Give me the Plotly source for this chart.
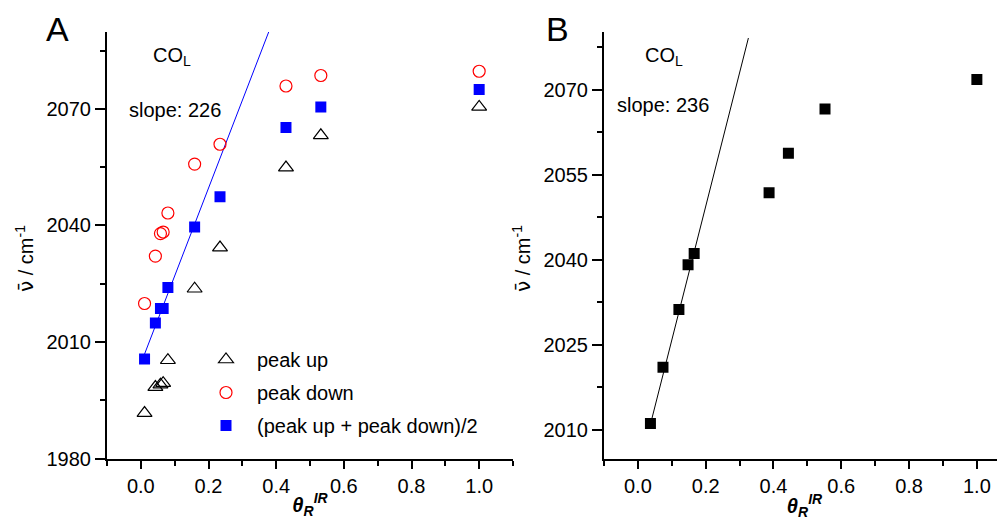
import plotly.graph_objects as go

# ---------------- data ----------------
theta_A = [0.011, 0.043, 0.058, 0.066, 0.080, 0.159, 0.234, 0.429, 0.532, 1.0]
peak_up = [1991.7, 1998.4, 1999.0, 1999.4, 2005.3, 2023.7, 2034.3, 2054.9, 2063.2, 2070.5]
peak_down = [2019.9, 2032.1, 2037.9, 2038.3, 2043.2, 2055.8, 2060.9, 2075.9, 2078.6, 2079.7]
peak_avg = [2005.6, 2014.9, 2018.6, 2018.6, 2024.0, 2039.6, 2047.4, 2065.2, 2070.5, 2075.0]
fitA_slope, fitA_intercept = 226, 2004.4
fitA_x = [0.011, 0.388]

theta_B = [0.037, 0.074, 0.121, 0.148, 0.166, 0.387, 0.444, 0.552, 1.0]
nu_B = [2011.1, 2021.0, 2031.2, 2039.1, 2041.1, 2051.8, 2058.8, 2066.6, 2071.8]
fitB_slope, fitB_intercept = 236, 2002.2
fitB_x = [0.035, 0.326]

x_ticks = [0.0, 0.2, 0.4, 0.6, 0.8, 1.0]
yA_ticks = [1980, 2010, 2040, 2070]
yB_ticks = [2010, 2025, 2040, 2055, 2070]

FONT = "Liberation Sans, Arial, sans-serif"
OFF = 8  # browser body margin
W, H = 1005 - OFF, 520 - OFF

def px(x):
    return (x - OFF) / W

def py(y):
    return 1 - (y - OFF) / H

fig = go.Figure()

fig.add_trace(go.Scatter(x=fitA_x, y=[fitA_intercept + fitA_slope * v for v in fitA_x],
                         mode="lines", line=dict(color="#0000ff", width=1),
                         showlegend=False, xaxis="x", yaxis="y"))
fig.add_trace(go.Scatter(x=theta_A, y=peak_up, mode="markers", name="peak up",
                         legendgroup="a",
                         marker=dict(symbol="triangle-up-open", size=13, color="black",
                                     line=dict(width=1.2, color="black")),
                         xaxis="x", yaxis="y"))
fig.add_trace(go.Scatter(x=theta_A, y=peak_down, mode="markers", name="peak down",
                         legendgroup="b",
                         marker=dict(symbol="circle-open", size=12, color="#ff0000",
                                     line=dict(width=1.2, color="#ff0000")),
                         xaxis="x", yaxis="y"))
fig.add_trace(go.Scatter(x=theta_A, y=peak_avg, mode="markers",
                         name="(peak up + peak down)/2", legendgroup="c",
                         marker=dict(symbol="square", size=11, color="#0000ff"),
                         xaxis="x", yaxis="y"))

fig.add_trace(go.Scatter(x=fitB_x, y=[fitB_intercept + fitB_slope * v for v in fitB_x],
                         mode="lines", line=dict(color="black", width=1),
                         showlegend=False, xaxis="x2", yaxis="y2"))
fig.add_trace(go.Scatter(x=theta_B, y=nu_B, mode="markers", showlegend=False,
                         marker=dict(symbol="square", size=11, color="black"),
                         xaxis="x2", yaxis="y2"))

ydom = [py(458.5), py(32)]

def xax(domain, rng, anchor):
    return dict(domain=domain, range=rng, anchor=anchor, showgrid=False, zeroline=False,
                showline=True, linecolor="black", linewidth=2,
                ticks="outside", ticklen=8, tickwidth=1.5, tickcolor="black",
                tickmode="array", tickvals=x_ticks, ticktext=[f"{v:.1f}" for v in x_ticks],
                minor=dict(ticks="outside", ticklen=5, tickwidth=1.5, tickcolor="black",
                           dtick=0.1, tick0=0),
                tickfont=dict(family=FONT, size=20, color="black"),
                title=dict(text="<b><i>θ<sub>R</sub><sup>IR</sup></i></b>",
                           font=dict(family=FONT, size=20, color="black"), standoff=2),
                automargin=False)

def yax(rng, anchor, ticks, minor_dt, minor_t0):
    return dict(domain=ydom, range=rng, anchor=anchor, showgrid=False, zeroline=False,
                showline=True, linecolor="black", linewidth=2,
                ticks="outside", ticklen=10, tickwidth=1.5, tickcolor="black",
                tickmode="array", tickvals=ticks, ticktext=[str(v) for v in ticks],
                minor=dict(ticks="outside", ticklen=5, tickwidth=1.5, tickcolor="black",
                           dtick=minor_dt, tick0=minor_t0),
                tickfont=dict(family=FONT, size=20, color="black"),
                automargin=False)

fig.update_layout(
    width=W, height=H,
    margin=dict(l=0, r=0, t=0, b=0),
    paper_bgcolor="white", plot_bgcolor="white",
    font=dict(family=FONT, size=20, color="black"),
    xaxis=xax([px(107), px(513)], [-0.1, 1.1], "y"),
    yaxis=yax([1980, 2089.8], "x", yA_ticks, 15, 1980),
    xaxis2=xax([px(604), 1.0], [-0.1, 1.083], "y2"),
    yaxis2=yax([2004.9, 2080.2], "x2", yB_ticks, 7.5, 2010),
    legend=dict(x=px(195), y=py(340), xanchor="left", yanchor="top",
                bgcolor="rgba(0,0,0,0)", borderwidth=0, tracegroupgap=4,
                itemwidth=52,
                font=dict(family=FONT, size=20, color="black")),
    showlegend=True,
)

def ann(text, x, y, size=20, angle=0, yanchor="middle"):
    fig.add_annotation(text=text, x=px(x), y=py(y), xref="paper", yref="paper",
                       xanchor="center", yanchor=yanchor, showarrow=False,
                       textangle=angle,
                       font=dict(family=FONT, size=size, color="black"))

ytitle = "<span style='font-family:DejaVu Sans'>ν̄</span> / cm<sup>-1</sup>"
ann("A", 57, 8, 34, yanchor="top")
ann("B", 557, 8, 34, yanchor="top")
ann("CO<sub>L</sub>", 172, 56)
ann("slope: 226", 175, 110)
ann("CO<sub>L</sub>", 664, 56)
ann("slope: 236", 663, 105)
ann(ytitle, 25, 259, 20, -90)
ann(ytitle, 522, 259, 20, -90)

fig.write_html("out.html")
